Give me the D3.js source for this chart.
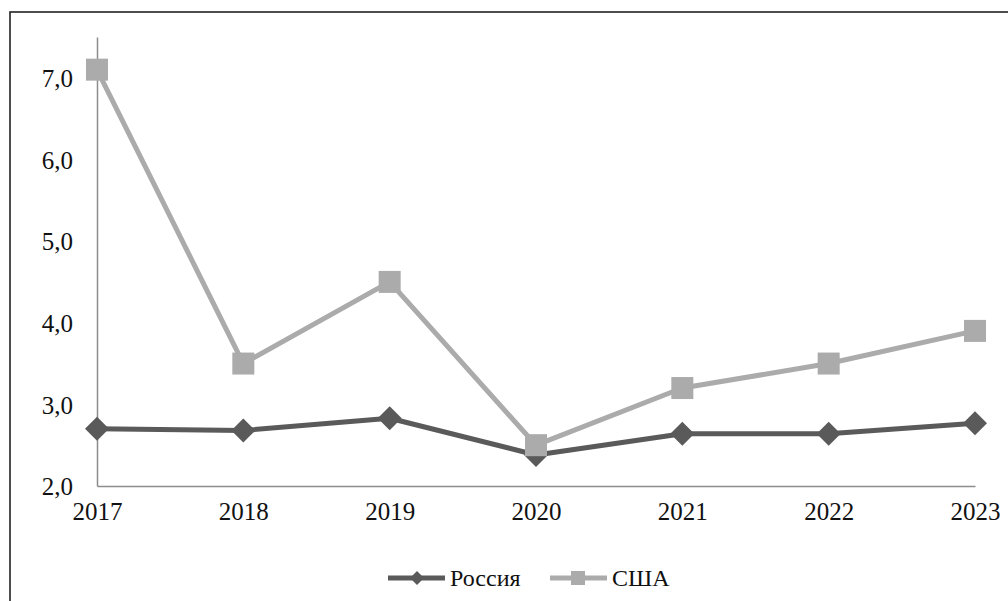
<!DOCTYPE html>
<html><head><meta charset="utf-8">
<script src="https://cdn.jsdelivr.net/npm/d3@7/dist/d3.min.js"></script>
<style>html,body{margin:0;padding:0;background:#fff;overflow:hidden}
text{font-family:"Liberation Serif","Times New Roman",Tinos,"DejaVu Serif",serif !important;}</style>
</head><body>
<svg id="c" width="1008" height="601"></svg>
<script>
const years = ["2017","2018","2019","2020","2021","2022","2023"];
const russia = [2.70, 2.68, 2.83, 2.38, 2.64, 2.64, 2.77];
const usa = [7.1, 3.5, 4.5, 2.5, 3.2, 3.5, 3.9];
const yTicks = [2, 3, 4, 5, 6, 7];
const seriesNames = ["Россия", "США"];

const svg = d3.select("#c");

// frame
svg.append("rect").attr("x",10).attr("y",12).attr("width",1100).attr("height",700)
  .attr("fill","none").attr("stroke","#222").attr("stroke-width",1.6);

const x = d3.scalePoint().domain(years).range([97, 975]);
const y = d3.scaleLinear().domain([2, 7.5]).range([486, 37]);

// axes
const yAxis = svg.append("g").attr("transform","translate(97,0)")
  .call(d3.axisLeft(y).tickValues(yTicks).tickSize(0).tickPadding(24)
    .tickFormat(d => d3.format(".1f")(d).replace(".", ",")));
yAxis.attr("font-family", null);
yAxis.select(".domain").attr("stroke","#8c8c8c").attr("stroke-width",1.5);
yAxis.selectAll("text").attr("font-size",25).attr("fill","#111").attr("dy","0.35em");

const xAxis = svg.append("g").attr("transform","translate(0,486)")
  .call(d3.axisBottom(x).tickSize(0).tickPadding(16));
xAxis.attr("font-family", null);
xAxis.select(".domain").attr("stroke","#8c8c8c").attr("stroke-width",1.5);
xAxis.selectAll("text").attr("font-size",25).attr("fill","#111");

const line = d3.line().x((d,i)=>x(years[i])).y(d=>y(d));

const colR = "#5a5a5a", colU = "#ababab";

// Russia
svg.append("path").datum(russia).attr("d",line).attr("fill","none")
  .attr("stroke",colR).attr("stroke-width",5).attr("stroke-linejoin","round");
svg.selectAll(".dr").data(russia).join("path").attr("class","dr")
  .attr("transform",(d,i)=>`translate(${x(years[i])},${y(d)})`)
  .attr("d","M0,-12L12,0L0,12L-12,0Z").attr("fill",colR);

// USA
svg.append("path").datum(usa).attr("d",line).attr("fill","none")
  .attr("stroke",colU).attr("stroke-width",5).attr("stroke-linejoin","round");
svg.selectAll(".su").data(usa).join("rect").attr("class","su")
  .attr("x",(d,i)=>x(years[i])-11).attr("y",d=>y(d)-11)
  .attr("width",22).attr("height",22).attr("fill",colU);

// legend
const leg = svg.append("g");
const legItems = [
  {name: seriesNames[0], col: colR, x0: 388, type: "diamond"},
  {name: seriesNames[1], col: colU, x0: 550, type: "square"}
];
const ly = 578;
legItems.forEach(it => {
  leg.append("line").attr("x1",it.x0).attr("x2",it.x0+57).attr("y1",ly).attr("y2",ly)
    .attr("stroke",it.col).attr("stroke-width",5);
  if (it.type === "diamond") {
    leg.append("path").attr("transform",`translate(${it.x0+29},${ly})`)
      .attr("d","M0,-7L7,0L0,7L-7,0Z").attr("fill",it.col);
  } else {
    leg.append("rect").attr("x",it.x0+28-7).attr("y",ly-7).attr("width",14).attr("height",14).attr("fill",it.col);
  }
  leg.append("text").attr("x",it.x0+62).attr("y",ly).attr("dy","0.35em")
    .attr("font-size",24).attr("fill","#111").text(it.name);
});
</script>
</body></html>
